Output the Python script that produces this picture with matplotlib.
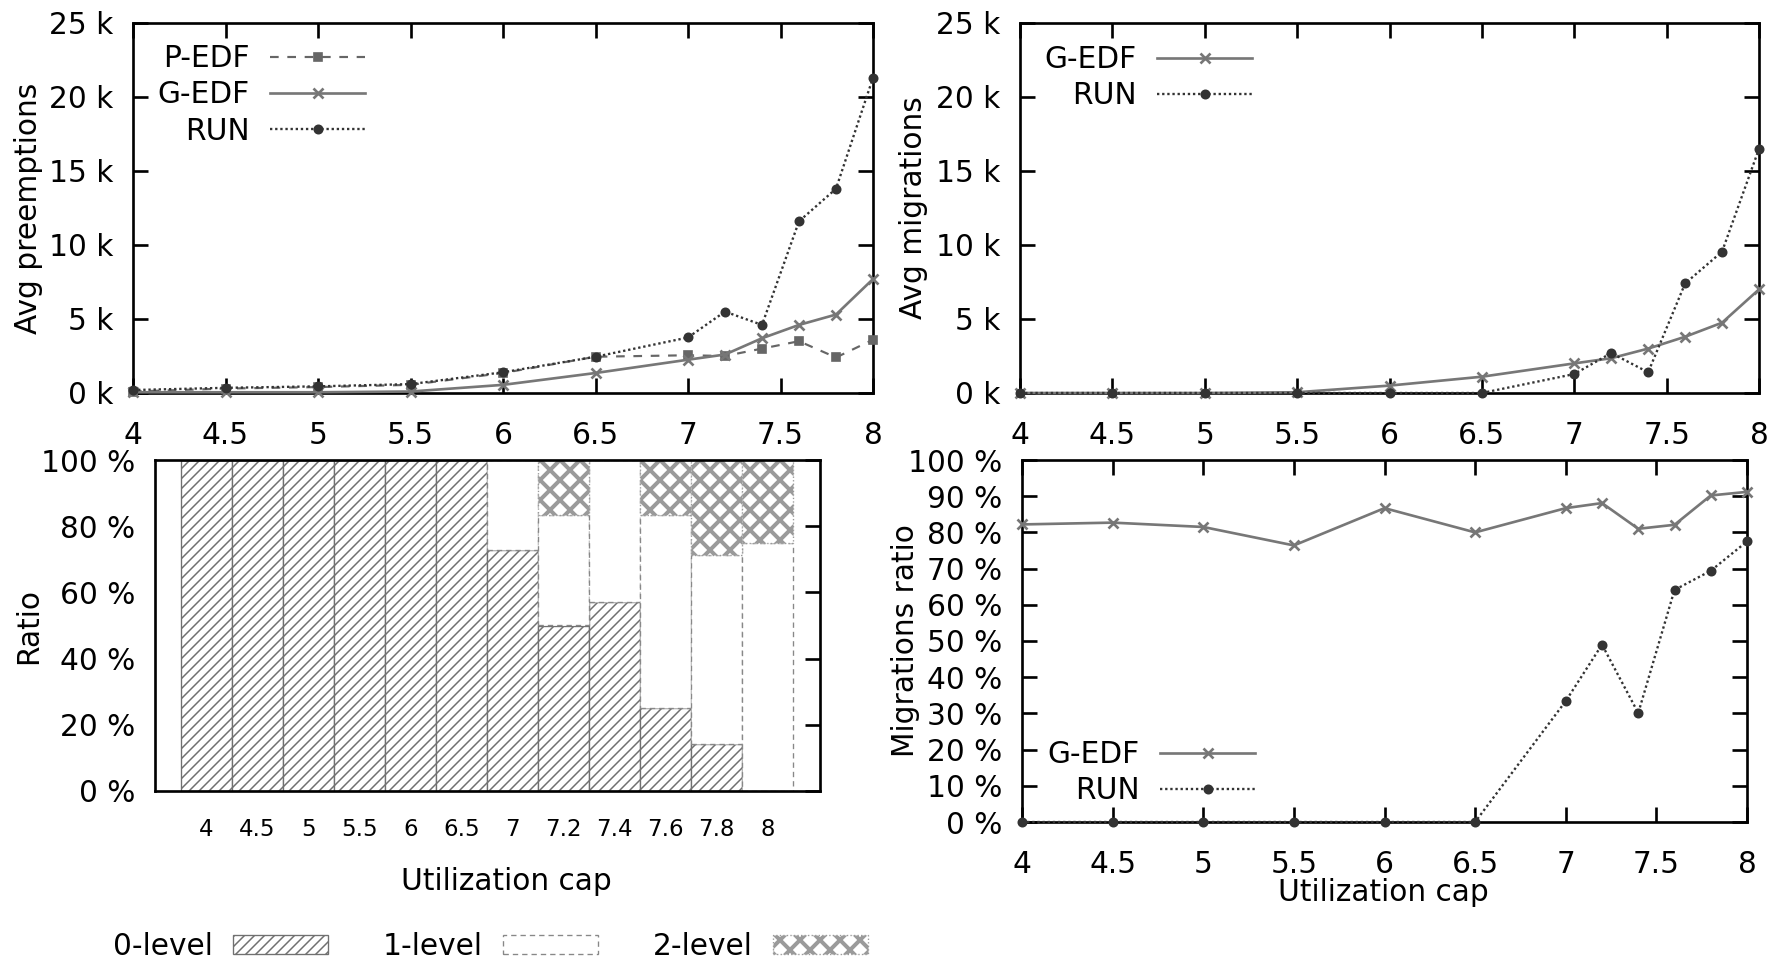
import numpy as np
import matplotlib
matplotlib.use('Agg')
import matplotlib.pyplot as plt
from matplotlib.ticker import FuncFormatter

# utilization caps used in all four panels
caps = [4, 4.5, 5, 5.5, 6, 6.5, 7, 7.2, 7.4, 7.6, 7.8, 8]
cap_labels = ['4', '4.5', '5', '5.5', '6', '6.5', '7', '7.2', '7.4', '7.6', '7.8', '8']

# average preemptions
preempt_pedf = [100, 300, 400, 550, 1350, 2450, 2550, 2500, 3000, 3500, 2400, 3600]
preempt_gedf = [50, 50, 50, 100, 550, 1350, 2250, 2600, 3700, 4600, 5300, 7700]
preempt_run = [200, 350, 450, 600, 1400, 2450, 3750, 5500, 4600, 11600, 13800, 21300]

# average migrations
migr_gedf = [0, 0, 0, 50, 500, 1100, 2000, 2350, 3000, 3800, 4750, 7000]
migr_run = [0, 0, 0, 0, 0, 0, 1280, 2700, 1400, 7400, 9550, 16500]

# migrations ratio (%)
ratio_gedf = [82.2, 82.7, 81.5, 76.4, 86.7, 80.0, 86.7, 88.1, 81.0, 82.1, 90.2, 91.2]
ratio_run = [0, 0, 0, 0, 0, 0, 33.4, 49.0, 30.1, 64.1, 69.4, 77.5]

# reduction tree levels (%)
level0 = [100, 100, 100, 100, 100, 100, 72.7, 50.0, 57.1, 25.0, 14.3, 0]
level1 = [0, 0, 0, 0, 0, 0, 27.3, 33.3, 42.9, 58.3, 57.1, 75.0]
level2 = [0, 0, 0, 0, 0, 0, 0, 16.7, 0, 16.7, 28.6, 25.0]

W, H, DPI = 1778, 962, 120
FS = 17.8
HATCH_LW = [0.9, 1.0, 2.4]

plt.rcParams['font.family'] = 'DejaVu Sans'
plt.rcParams['font.size'] = FS
plt.rcParams['axes.linewidth'] = 1.6

fig = plt.figure(figsize=(W / DPI, H / DPI), dpi=DPI)


def rect(x0, y0, x1, y1):
    return [x0 / W, 1 - y1 / H, (x1 - x0) / W, (y1 - y0) / H]


def gp_ticks(ax, xpad=16.5):
    ax.tick_params(direction='in', length=9, width=1.6, top=True, right=True,
                   labelsize=FS)
    ax.tick_params(axis='x', pad=xpad)
    ax.tick_params(axis='y', pad=12)


def set_hatch_lw(patches, lw):
    for p in patches:
        if hasattr(p, 'set_hatch_linewidth'):
            p.set_hatch_linewidth(lw)


styles = {
    'P-EDF': dict(color='#666666', ls=(0, (4, 4)), lw=1.3, marker='s', ms=5),
    'G-EDF': dict(color='#777777', ls='-', lw=1.6, marker='x', ms=6, mew=1.6),
    'RUN': dict(color='#333333', ls=(0, (1, 1.2)), lw=1.4, marker='o', ms=5),
}

kfmt = FuncFormatter(lambda v, _: f'{v / 1000:g} k')
pfmt = FuncFormatter(lambda v, _: f'{v:g} %')
gfmt = FuncFormatter(lambda v, _: f'{v:g}')


def line_panel(ax, series):
    for name, vals in series:
        ax.plot(caps, vals, label=name, clip_on=False, zorder=3, **styles[name])
    ax.set_xlim(4, 8)
    ax.set_xticks(np.arange(4, 8.01, 0.5))
    ax.xaxis.set_major_formatter(gfmt)
    gp_ticks(ax)


def right_legend(ax, x, y):
    # legend anchored at the right end of the line samples
    ax.legend(loc='upper right', bbox_to_anchor=(x / W, 1 - y / H),
              bbox_transform=fig.transFigure, frameon=False, markerfirst=False,
              numpoints=1, handlelength=3.2, handletextpad=0.7,
              labelspacing=0.25, borderpad=0, borderaxespad=0)


# preemptions
ax1 = fig.add_axes(rect(133, 23, 873, 393))
line_panel(ax1, [('P-EDF', preempt_pedf), ('G-EDF', preempt_gedf), ('RUN', preempt_run)])
ax1.set_ylim(0, 25000)
ax1.set_yticks(np.arange(0, 25001, 5000))
ax1.yaxis.set_major_formatter(kfmt)
ax1.set_ylabel('Avg preemptions', va='center', ha='center')
ax1.yaxis.set_label_coords((29 - 133) / 740, 0.5)
right_legend(ax1, 365, 44)

# migrations
ax2 = fig.add_axes(rect(1020, 23, 1759, 393))
line_panel(ax2, [('G-EDF', migr_gedf), ('RUN', migr_run)])
ax2.set_ylim(0, 25000)
ax2.set_yticks(np.arange(0, 25001, 5000))
ax2.yaxis.set_major_formatter(kfmt)
ax2.set_ylabel('Avg migrations', va='center', ha='center')
ax2.yaxis.set_label_coords((914 - 1020) / 739, 0.5)
right_legend(ax2, 1252, 45)

# migrations ratio
ax4 = fig.add_axes(rect(1022, 460, 1747, 822))
line_panel(ax4, [('G-EDF', ratio_gedf), ('RUN', ratio_run)])
ax4.set_ylim(0, 100)
ax4.set_yticks(np.arange(0, 101, 10))
ax4.yaxis.set_major_formatter(pfmt)
ax4.set_ylabel('Migrations ratio', va='center', ha='center')
ax4.yaxis.set_label_coords((906 - 1022) / 725, 0.5)
ax4.set_xlabel('Utilization cap', va='center', ha='center')
ax4.xaxis.set_label_coords((1383 - 1022) / 725, (822 - 892) / 362)
right_legend(ax4, 1255, 740)

# stacked levels
ax3 = fig.add_axes(rect(155, 460, 820, 791))
pos = np.arange(len(caps))
l0 = np.array(level0)
l1 = np.array(level1)
l2 = np.array(level2)

plt.rcParams['hatch.linewidth'] = HATCH_LW[0]
b0 = ax3.bar(pos, l0, width=1, color='white', edgecolor='#707070', lw=0.8,
             hatch='////', label='0-level')
plt.rcParams['hatch.linewidth'] = HATCH_LW[1]
b1 = ax3.bar(pos, l1, width=1, bottom=l0, color='white', edgecolor='#888888',
             lw=0.8, ls=(0, (4, 3)), label='1-level')
plt.rcParams['hatch.linewidth'] = HATCH_LW[2]
b2 = ax3.bar(pos, l2, width=1, bottom=l0 + l1, color='white', edgecolor='#9a9a9a',
             lw=0.8, ls=':', hatch='xx', label='2-level')
for bars, hlw in zip((b0, b1, b2), HATCH_LW):
    set_hatch_lw(bars, hlw)

ax3.set_xlim(-1.01, 12.03)
ax3.set_ylim(0, 100)
ax3.set_yticks(np.arange(0, 101, 20))
ax3.yaxis.set_major_formatter(pfmt)
ax3.set_xticks(pos)
ax3.set_xticklabels(cap_labels)
ax3.tick_params(axis='y', direction='in', length=9, width=1.6, left=False,
                right=True, labelleft=True, pad=12, labelsize=FS)
ax3.tick_params(axis='x', bottom=False, pad=12.8, labelsize=13.7)
ax3.set_ylabel('Ratio', va='center', ha='center')
ax3.yaxis.set_label_coords((29 - 155) / 665, 0.5)
ax3.set_xlabel('Utilization cap', va='center', ha='center')
ax3.xaxis.set_label_coords((506 - 155) / 665, (791 - 881) / 331)

leg = fig.legend(handles=[b0, b1, b2], labels=['0-level', '1-level', '2-level'],
                 loc='center left', bbox_to_anchor=(113 / W, 1 - 946 / H), ncol=3,
                 frameon=False, markerfirst=False, borderpad=0, borderaxespad=0,
                 handlelength=3.2, handleheight=0.61, handletextpad=0.68,
                 columnspacing=1.85)
for patch, hlw in zip(leg.get_patches(), HATCH_LW):
    set_hatch_lw([patch], hlw)

fig.savefig('out.png', dpi=DPI)
